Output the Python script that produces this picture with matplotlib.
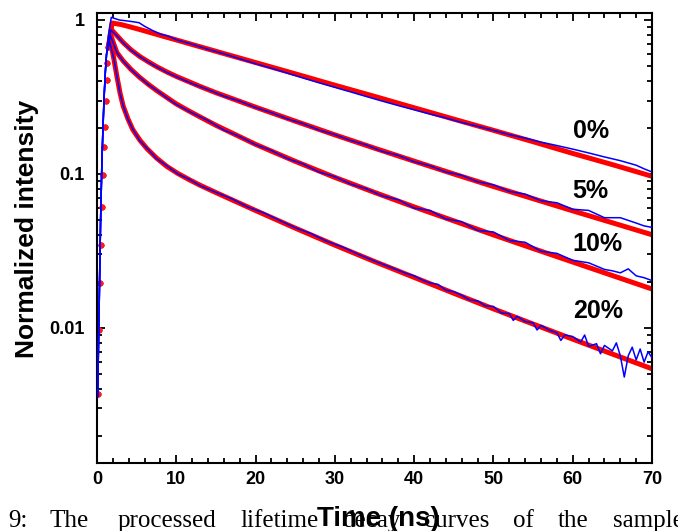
import numpy as np
import matplotlib
matplotlib.use("Agg")
import matplotlib.pyplot as plt
from matplotlib.ticker import LogLocator, MultipleLocator, FixedLocator, FixedFormatter, NullFormatter

plt.rcParams['font.family'] = ['Liberation Sans', 'DejaVu Sans']

# shared rising edge of the fitted curves (red dots) and of the data (blue)
t_rise_fit = [0.12, 0.24, 0.36, 0.48, 0.60, 0.72, 0.84, 0.96, 1.08, 1.20, 1.32, 1.44]
y_rise_fit = [0.0037, 0.0097, 0.0197, 0.0346, 0.061, 0.098, 0.15, 0.203, 0.30, 0.41, 0.526, 0.67]
t_rise_data = [0.08, 0.15, 0.25, 0.35, 0.45, 0.6, 0.75, 0.9, 1.05, 1.2]
y_rise_data = [0.0036, 0.006, 0.012, 0.025, 0.05, 0.11, 0.2, 0.32, 0.46, 0.6]

# fitted decays (red)
t_fit_0 = [1.9, 3, 4, 5.5, 7, 8.5, 10, 13, 15, 20, 25, 30, 35, 40, 45, 50, 55, 60, 65, 70]
fit_0 = [0.956, 0.935, 0.907, 0.864, 0.821, 0.780, 0.742, 0.670, 0.626, 0.529, 0.447, 0.377,
         0.319, 0.269, 0.227, 0.192, 0.162, 0.136, 0.115, 0.0966]
t_fit_5 = [1.85, 2.5, 3.3, 4.3, 5.4, 6.5, 7.6, 8.8, 10, 11.5, 13, 15, 20, 25, 30, 35, 40,
           45, 50, 55, 60, 65, 70]
fit_5 = [0.861, 0.793, 0.714, 0.639, 0.579, 0.534, 0.495, 0.460, 0.430, 0.399, 0.370, 0.337,
         0.2715, 0.2203, 0.1794, 0.1471, 0.1211, 0.100, 0.0829, 0.0691, 0.0576, 0.0482, 0.0403]
t_fit_10 = [1.8, 2.5, 3.3, 4.3, 5.4, 6.5, 7.6, 8.8, 10, 11.5, 13, 15, 20, 25, 30, 35, 40,
            45, 50, 55, 60, 65, 70]
fit_10 = [0.776, 0.615, 0.542, 0.477, 0.423, 0.381, 0.346, 0.314, 0.285, 0.258, 0.2345, 0.207,
          0.1557, 0.1208, 0.0950, 0.0759, 0.0611, 0.0496, 0.0402, 0.0328, 0.0268, 0.0219,
          0.0179]
t_fit_20 = [1.7, 2.1, 2.5, 2.9, 3.3, 3.9, 4.5, 5.4, 6.3, 7.5, 8.8, 10.2, 11.7, 13, 15, 20,
            25, 30, 35, 40, 45, 50, 55, 60, 65, 70]
fit_20 = [0.720, 0.567, 0.433, 0.336, 0.276, 0.228, 0.1945, 0.166, 0.146, 0.127, 0.112, 0.1007,
          0.0914, 0.0845, 0.0757, 0.0579, 0.0445, 0.0345, 0.0270, 0.0213, 0.0168, 0.0133,
          0.0106, 0.00846, 0.00677, 0.00543]

# measured decays (blue)
t_dat_0 = [1.45, 1.8, 2.3, 2.8, 3.5, 4.5, 5.3, 6, 7, 8, 9, 10, 12, 14, 16, 18, 20, 22, 24, 26,
           28, 30, 32, 34, 36, 38, 40, 42, 44, 46, 48, 50, 52, 54, 56, 58, 60, 62, 64, 66, 68,
           69, 70]
dat_0 = [0.80, 1.04, 1.02, 1.0, 0.99, 0.975, 0.96, 0.91, 0.855, 0.81, 0.785, 0.745, 0.695,
         0.645, 0.603, 0.560, 0.520, 0.486, 0.452, 0.420, 0.391, 0.365, 0.341, 0.318, 0.297,
         0.278, 0.261, 0.245, 0.231, 0.216, 0.204, 0.192, 0.180, 0.171, 0.161, 0.153, 0.145,
         0.137, 0.129, 0.122, 0.114, 0.108, 0.103]
t_dat_5 = [1.75, 2.5, 3.3, 4.3, 5.4, 6.5, 7.6, 8.8, 10, 12, 14, 16, 18, 20, 22, 24, 26, 28, 30,
           32, 34, 36, 38, 40, 42, 44, 46, 48, 50, 52, 54, 56, 58, 60, 62, 64, 66, 68, 69, 70]
dat_5 = [0.86, 0.79, 0.71, 0.636, 0.578, 0.531, 0.494, 0.457, 0.428, 0.386, 0.353, 0.320,
         0.297, 0.270, 0.250, 0.228, 0.212, 0.193, 0.180, 0.165, 0.154, 0.140, 0.132, 0.120,
         0.113, 0.103, 0.098, 0.089, 0.085, 0.077, 0.074, 0.067, 0.065, 0.059, 0.058, 0.052,
         0.052, 0.048, 0.046, 0.045]
t_dat_10 = [1.7, 2.5, 3.3, 4.3, 5.4, 6.5, 7.6, 8.8, 10, 12, 14, 16, 18, 20, 22, 24, 26, 28,
            30, 32, 34, 36, 38, 40, 42, 44, 46, 48, 50, 52, 54, 56, 58, 60, 62, 64, 65, 66,
            67, 68, 69, 70]
dat_10 = [0.79, 0.615, 0.54, 0.475, 0.424, 0.379, 0.347, 0.312, 0.283, 0.249, 0.222, 0.193,
          0.175, 0.155, 0.142, 0.126, 0.116, 0.103, 0.096, 0.086, 0.080, 0.072, 0.068, 0.060,
          0.058, 0.051, 0.049, 0.043, 0.042, 0.037, 0.036, 0.0315, 0.0305, 0.0275, 0.0265,
          0.024, 0.0235, 0.0228, 0.0242, 0.0218, 0.0212, 0.0203]
t_dat_20 = [1.6, 2.1, 2.5, 2.9, 3.3, 3.9, 4.5, 5.4, 6.3, 7.5, 8.8, 10.2, 11.7, 13, 15, 17, 19,
            21, 23, 25, 27, 29, 31, 33, 35, 37, 39, 40, 41, 42, 43, 44, 45, 46, 47, 48, 49, 50,
            51, 52, 52.5, 53, 54, 55, 55.5, 56, 57, 58, 58.5, 59, 60, 61, 61.5, 62, 63, 63.5,
            64, 65, 65.5, 66, 66.5, 67, 67.5, 68, 68.5, 69, 69.5, 70]
dat_20 = [0.72, 0.565, 0.435, 0.334, 0.277, 0.226, 0.196, 0.164, 0.147, 0.126, 0.113, 0.100,
          0.092, 0.084, 0.076, 0.069, 0.061, 0.056, 0.050, 0.0448, 0.041, 0.0365, 0.0335,
          0.030, 0.0272, 0.0248, 0.0226, 0.0218, 0.0205, 0.0196, 0.0192, 0.0176, 0.0172,
          0.0163, 0.0152, 0.0150, 0.0139, 0.0138, 0.0125, 0.0124, 0.0112, 0.0119, 0.0110,
          0.0108, 0.0097, 0.0104, 0.0097, 0.0093, 0.0083, 0.0090, 0.0088, 0.0081, 0.0090,
          0.0076, 0.0079, 0.0068, 0.0077, 0.0071, 0.0080, 0.0066, 0.0048, 0.0066, 0.0075,
          0.0062, 0.0073, 0.0060, 0.0070, 0.0064]

labels = ['0%', '5%', '10%', '20%']
label_y = [0.19, 0.0776, 0.0351, 0.0129]

fits = [(t_fit_0, fit_0), (t_fit_5, fit_5), (t_fit_10, fit_10), (t_fit_20, fit_20)]
data = [(t_dat_0, dat_0), (t_dat_5, dat_5), (t_dat_10, dat_10), (t_dat_20, dat_20)]

fig = plt.figure(figsize=(6.78, 5.31), dpi=100)
ax = fig.add_axes([0.1431, 0.1281, 0.8186, 0.8465])

for (tf, yf), (td, yd) in zip(fits, data):
    ax.plot(t_rise_fit, y_rise_fit, 'o', color='#ff1a1a', ms=4.2, mec='none', zorder=2)
    ax.plot([t_rise_fit[-1]] + tf, [y_rise_fit[-1]] + yf, '-', color='red', lw=3.6,
            solid_capstyle='butt', solid_joinstyle='round', zorder=2)
    ax.plot(t_rise_data + td, y_rise_data + yd, '-', color='blue', lw=1.1, zorder=3)

ax.set_yscale('log')
ax.set_xlim(0, 70)
ax.set_ylim(0.001328, 1.102)

ax.xaxis.set_major_locator(MultipleLocator(10))
ax.xaxis.set_minor_locator(MultipleLocator(2))
ax.yaxis.set_major_locator(FixedLocator([0.01, 0.1, 1]))
ax.yaxis.set_major_formatter(FixedFormatter(['0.01', '0.1', '1']))
ax.yaxis.set_minor_locator(LogLocator(base=10, subs=np.arange(2, 10)))
ax.yaxis.set_minor_formatter(NullFormatter())

for s in ax.spines.values():
    s.set_linewidth(1.5)
ax.tick_params(which='both', direction='in', top=True, right=True, width=1.3)
ax.tick_params(which='major', length=6)
ax.tick_params(which='minor', length=3.5)
ax.tick_params(axis='x', pad=6)
ax.tick_params(axis='y', pad=9)
for lab in ax.get_xticklabels() + ax.get_yticklabels():
    lab.set_fontsize(13)
    lab.set_fontweight('bold')

for lab, yy in zip(labels, label_y):
    ax.text(60, yy, lab, ha='left', va='center', fontsize=18, fontweight='bold')

# caption words from the page underneath the chart
cap_words = ['9:', 'The', 'processed', 'lifetime', 'decay', 'curves', 'of', 'the', 'sample']
cap_x = [8, 50, 118, 240, 342, 424, 513, 558, 613]
for w, xx in zip(cap_words, cap_x):
    fig.text(xx / 678, 1 - 527 / 531, w, ha='left', va='baseline', fontsize=18,
             family=['Liberation Serif', 'DejaVu Serif'])

fig.text(378 / 678, 1 - 526 / 531, 'Time (ns)', ha='center', va='baseline', fontsize=20,
         fontweight='bold')
fig.text(27 / 678, 1 - 229 / 531, 'Normalized intensity', ha='center', va='center',
         rotation=90, fontsize=19, fontweight='bold')

fig.savefig('out.png', dpi=100)
